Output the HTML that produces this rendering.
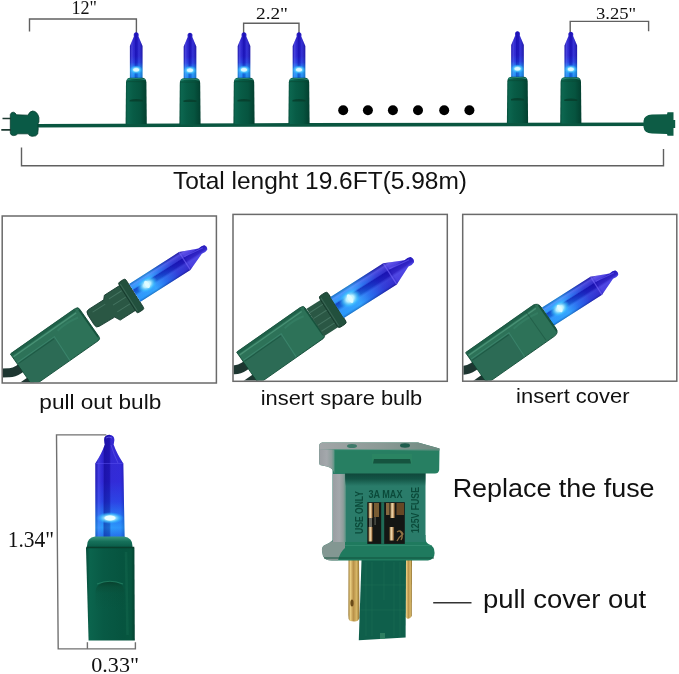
<!DOCTYPE html>
<html><head><meta charset="utf-8">
<style>
html,body{margin:0;padding:0;background:#fff;}
body{width:679px;height:674px;overflow:hidden;}
svg{display:block;}
text{font-family:"Liberation Sans", sans-serif;fill:#111;stroke:none;}
svg{will-change:transform;}
</style></head><body>
<svg width="679" height="674" viewBox="0 0 679 674">
<defs>
  <linearGradient id="bgrad" x1="0" y1="-47" x2="0" y2="0" gradientUnits="userSpaceOnUse">
    <stop offset="0" stop-color="#2c1ec4"/>
    <stop offset="0.5" stop-color="#2a24cc"/>
    <stop offset="0.64" stop-color="#2540dc"/>
    <stop offset="0.74" stop-color="#1f86f2"/>
    <stop offset="0.82" stop-color="#26b4fc"/>
    <stop offset="0.92" stop-color="#1c9cf4"/>
    <stop offset="1" stop-color="#1a84ea"/>
  </linearGradient>
  <linearGradient id="bside" x1="-6.3" y1="0" x2="6.3" y2="0" gradientUnits="userSpaceOnUse">
    <stop offset="0" stop-color="#000050" stop-opacity="0.2"/>
    <stop offset="0.15" stop-color="#8080ff" stop-opacity="0.35"/>
    <stop offset="0.3" stop-color="#6060ff" stop-opacity="0.1"/>
    <stop offset="0.42" stop-color="#0800a0" stop-opacity="0.4"/>
    <stop offset="0.58" stop-color="#0800a0" stop-opacity="0.3"/>
    <stop offset="0.72" stop-color="#6070ff" stop-opacity="0.2"/>
    <stop offset="1" stop-color="#000050" stop-opacity="0.3"/>
  </linearGradient>
  <linearGradient id="gbase" x1="-10.6" y1="0" x2="10.6" y2="0" gradientUnits="userSpaceOnUse">
    <stop offset="0" stop-color="#074e3b"/>
    <stop offset="0.1" stop-color="#0c664f"/>
    <stop offset="0.35" stop-color="#085c46"/>
    <stop offset="0.7" stop-color="#06543f"/>
    <stop offset="1" stop-color="#033f2f"/>
  </linearGradient>
  <g id="tbulb">
    <path d="M-2.3,-43 Q-2.6,-44.5 -2.3,-45.8 Q-1.6,-47.3 0,-47.3 Q1.6,-47.3 2.3,-45.8 Q2.6,-44.5 2.3,-43 L6.3,-33.5 L6.3,0 L-6.3,0 L-6.3,-33.5 Z" fill="url(#bgrad)"/>
    <path d="M-2.3,-43 Q-2.6,-44.5 -2.3,-45.8 Q-1.6,-47.3 0,-47.3 Q1.6,-47.3 2.3,-45.8 Q2.6,-44.5 2.3,-43 L6.3,-33.5 L6.3,0 L-6.3,0 L-6.3,-33.5 Z" fill="url(#bside)"/>
    <ellipse cx="0" cy="-9.8" rx="6.5" ry="4.5" fill="url(#glow)"/>
    <ellipse cx="0" cy="-9.8" rx="3" ry="1.5" fill="#dcfaff" opacity="0.9"/>
    <path d="M-10.2,3 Q-10,-1.6 -6,-1.8 L6,-1.8 Q10,-1.6 10.2,3 L10.6,44.5 L-10.6,44.5 Z" fill="url(#gbase)"/>
    <path d="M-9,0.2 Q0,-2.2 9,0.2" stroke="#2e8e78" stroke-width="1.2" fill="none" opacity="0.8"/>
    <rect x="-9.5" y="1.6" width="19" height="1" fill="#0a4632" opacity="0.5"/>
    <path d="M-6.5,20.5 Q0,18.5 6.5,20.5 L6.5,22 L-6.5,22 Z" fill="#073c2a" opacity="0.8"/>
  </g>

  <linearGradient id="glassA" x1="0" y1="0" x2="84" y2="0" gradientUnits="userSpaceOnUse">
    <stop offset="0" stop-color="#22a2fa"/>
    <stop offset="0.24" stop-color="#2eb2fe"/>
    <stop offset="0.38" stop-color="#2070ea"/>
    <stop offset="0.55" stop-color="#2a36d0"/>
    <stop offset="0.69" stop-color="#3024c4"/>
    <stop offset="0.72" stop-color="#4a3ada"/>
    <stop offset="1" stop-color="#4a3ade"/>
  </linearGradient>
  <linearGradient id="glassB" x1="0" y1="-11" x2="0" y2="11" gradientUnits="userSpaceOnUse">
    <stop offset="0" stop-color="#000050" stop-opacity="0.3"/>
    <stop offset="0.12" stop-color="#8a80ff" stop-opacity="0.4"/>
    <stop offset="0.28" stop-color="#7070ff" stop-opacity="0.15"/>
    <stop offset="0.36" stop-color="#0800a0" stop-opacity="0.55"/>
    <stop offset="0.55" stop-color="#0800a0" stop-opacity="0.35"/>
    <stop offset="0.66" stop-color="#6070ff" stop-opacity="0.25"/>
    <stop offset="0.88" stop-color="#5060ff" stop-opacity="0.15"/>
    <stop offset="1" stop-color="#000050" stop-opacity="0.35"/>
  </linearGradient>
  <g id="gbulb">
    <path id="gbshape" d="M0,-11 L58,-11 L76,-3.2 Q80,-4.2 82.5,-2.8 Q84.5,0 82.5,2.8 Q80,4.2 76,3.2 L58,11 L0,11 Z" fill="url(#glassA)"/>
    <path d="M0,-11 L58,-11 L76,-3.2 Q80,-4.2 82.5,-2.8 Q84.5,0 82.5,2.8 Q80,4.2 76,3.2 L58,11 L0,11 Z" fill="url(#glassB)"/>
    <path d="M58,-11 L58,11" stroke="#7a6cff" stroke-width="1.2" opacity="0.6"/>
    <path d="M60,-4 L80,-1.5" stroke="#7a6cff" stroke-width="1" opacity="0.5"/>
    <ellipse cx="14.5" cy="-0.5" rx="11" ry="8" fill="url(#glow)"/>
    <ellipse cx="14.5" cy="-0.5" rx="2" ry="4.2" fill="#e0fcff" opacity="0.9"/>
  </g>
  <clipPath id="c1"><rect x="2.9" y="216.7" width="212.8" height="165.6"/></clipPath>
  <clipPath id="c2"><rect x="233.7" y="215.1" width="212.9" height="165.5"/></clipPath>
  <clipPath id="c3"><rect x="463.4" y="215.1" width="212.7" height="165.4"/></clipPath>
</defs>

<!-- top dimension brackets -->
<g stroke="#606060" stroke-width="1.4" fill="none">
  <path d="M29.5,31.5 V19 H136.4 V33"/>
  <path d="M243.6,33 V23.2 H299 V33"/>
  <path d="M570.2,32.5 V21.4 H648.6 V31.2"/>
  <path d="M21.5,147.5 V165.8 H663.5 V149"/>
</g>
<text x="71.5" y="14" style="font-family:'Liberation Serif'" font-size="18" textLength="25.5" lengthAdjust="spacingAndGlyphs">12"</text>
<text x="256" y="18.8" style="font-family:'Liberation Serif'" font-size="17" textLength="32" lengthAdjust="spacingAndGlyphs">2.2"</text>
<text x="596" y="18.6" style="font-family:'Liberation Serif'" font-size="17.5" textLength="40.2" lengthAdjust="spacingAndGlyphs">3.25"</text>
<text x="173" y="188.9" font-size="24.2" textLength="294" lengthAdjust="spacingAndGlyphs">Total lenght 19.6FT(5.98m)</text>

<!-- wire -->
<path d="M36,125.7 L300,124.9 L660,124.2" stroke="#0a5640" stroke-width="3.6" fill="none"/>
<!-- plug -->
<path d="M10.3,114.5 Q11.3,112 13.3,112.2 Q15.2,112.4 16.5,114.8 L28,115.2 Q29.5,111.3 32.7,111 Q37.3,111.3 38.9,117.5 L38.9,122 L37.9,124 L38.2,129 L37.7,134 Q36.3,136.6 31.8,136.3 Q29,135.9 28.2,133.8 L17.8,133.8 Q16.2,135.7 13.3,135.6 Q10.8,135.3 10.3,133.2 Z" fill="#0a5a46" stroke="#063e2f" stroke-width="0.8"/>
<path d="M2.5,118.5 L11,118.5 M1.3,129.9 L11,129.9" stroke="#1d3a32" stroke-width="1.7"/>
<!-- connector -->
<path d="M643.5,121 Q644,115 652,114.5 L667,114.2 L667.5,112.2 L673.5,112.2 L673.5,120 L675.2,120 L675.2,128 L673.5,128 L673.5,135.8 L667.5,135.8 L667,134 L652,133.5 Q644,133 643.5,127 Z" fill="#0d5c45"/>

<!-- bulbs -->
<use href="#tbulb" x="136.2" y="79.5"/>
<use href="#tbulb" x="190" y="80"/>
<use href="#tbulb" x="244" y="79.5"/>
<use href="#tbulb" x="299" y="79.5"/>
<use href="#tbulb" x="517.5" y="78.5"/>
<use href="#tbulb" x="570.8" y="79"/>

<!-- dots -->
<g fill="#000">
  <circle cx="343.2" cy="110.2" r="5"/>
  <circle cx="367.9" cy="110.2" r="5"/>
  <circle cx="392.9" cy="110.2" r="5"/>
  <circle cx="418" cy="110.2" r="5"/>
  <circle cx="444.2" cy="110.2" r="5"/>
  <circle cx="469.4" cy="110.2" r="5"/>
</g>


<!-- box 1 content -->
<g clip-path="url(#c1)">
  <g transform="translate(89.6,324.2) rotate(-35)">
    <path d="M-74,-3.5 L-84,-3.5 Q-90,-3.5 -94,-6.5 L-127,-28.5" stroke="#1d3631" stroke-width="9" fill="none"/>
    <path d="M-122,12 L-74,12" stroke="#1d3631" stroke-width="8" fill="none"/>
    <path d="M-82,-21 L-2.5,-21 Q0.5,-21 0.5,-18 L0.5,15.5 Q0.5,18.5 -2.5,18.5 L-82,18.5 Z" fill="#2d7258" stroke="#0e4632" stroke-width="0.8"/>
    <path d="M-81,-20 L-3.5,-20" stroke="#1a5a43" stroke-width="3" opacity="0.7"/>
    <path d="M-81,-17 L-4.5,-17" stroke="#5aa688" stroke-width="1.3" opacity="0.6"/>
    <path d="M-81.5,-10 L-36,-10 L-37,18.0 L-81.5,18.0 Z" fill="#2c6b55"/>
    <path d="M-81,-10 L-36,-10 L-37,18.5" stroke="#45937a" stroke-width="1.1" fill="none" opacity="0.55"/>
    <path d="M-81,-8.5 L-37.5,-8.5" stroke="#0f4a35" stroke-width="1" opacity="0.5"/>
    <path d="M-30,-13 Q-17.75,-15 -5.5,-12" stroke="#3f8f72" stroke-width="2" fill="none" opacity="0.35"/>
    <path d="M-0.5,-18 L-0.5,15.5" stroke="#0e4632" stroke-width="1.4" opacity="0.7"/>

  </g>
  <g transform="translate(89.6,324.2) rotate(-32.5)">
    <path d="M7,-13 Q3.5,-13 3.5,-8.5 L3.5,3 Q3.5,7 7,7 L25,7.5 L28,13 L46.5,13 L46.5,-16.5 L28,-16.5 L25,-13 Z" fill="#2a5744"/>
    <path d="M7,-13 Q3.5,-13 3.5,-8.5 L3.5,3 Q3.5,7 7,7 L25,7.5 L28,13 L46.5,13 L46.5,-16.5 L28,-16.5 L25,-13 Z" fill="none" stroke="#163a2e" stroke-width="0.8"/>
    <path d="M9,-8.5 L24,-8.5 M30,-11 L45,-11 M30,-3.5 L45,-3.5 M30,4.5 L45,4.5" stroke="#4f7f6c" stroke-width="1" opacity="0.7"/>
    <rect x="46" y="-19.5" width="8.5" height="36" rx="2" fill="#22503d" stroke="#14372b" stroke-width="0.8"/>
    <path d="M47.5,-17.5 L47.5,14.5" stroke="#44705f" stroke-width="1" opacity="0.7"/>
    <g transform="translate(55,-2.2) scale(1.02,0.96)"><use href="#gbulb"/></g>
  </g>
</g>
<!-- box 2 content -->
<g clip-path="url(#c2)">
  <g transform="translate(314.2,321.7) rotate(-35)">
    <path d="M-73,-3.5 L-83,-3.5 Q-89,-3.5 -93,-6.5 L-126,-28.5" stroke="#1d3631" stroke-width="9" fill="none"/>
    <path d="M-121,12 L-73,12" stroke="#1d3631" stroke-width="8" fill="none"/>
    <path d="M-81,-19.5 L-2.5,-19.5 Q0.5,-19.5 0.5,-16.5 L0.5,16 Q0.5,19 -2.5,19 L-81,19 Z" fill="#2d7258" stroke="#0e4632" stroke-width="0.8"/>
    <path d="M-80,-18.5 L-3.5,-18.5" stroke="#1a5a43" stroke-width="3" opacity="0.7"/>
    <path d="M-80,-15.5 L-4.5,-15.5" stroke="#5aa688" stroke-width="1.3" opacity="0.6"/>
    <path d="M-80.5,-9 L-34,-9 L-35,18.5 L-80.5,18.5 Z" fill="#2c6b55"/>
    <path d="M-80,-9 L-34,-9 L-35,19" stroke="#45937a" stroke-width="1.1" fill="none" opacity="0.55"/>
    <path d="M-80,-7.5 L-35.5,-7.5" stroke="#0f4a35" stroke-width="1" opacity="0.5"/>
    <path d="M-28,-11.5 Q-16.75,-13.5 -5.5,-10.5" stroke="#3f8f72" stroke-width="2" fill="none" opacity="0.35"/>
    <path d="M-0.5,-16.5 L-0.5,16" stroke="#0e4632" stroke-width="1.4" opacity="0.7"/>

  </g>
  <g transform="translate(314.2,321.7) rotate(-32.5)">
    <rect x="0.5" y="-15" width="17" height="32.5" fill="#2a5744"/>
    <path d="M1,-10 L17,-10 M1,-3 L17,-3 M1,5 L17,5 M1,12 L17,12" stroke="#4f7f6c" stroke-width="1" opacity="0.7"/>
    <rect x="17" y="-18.7" width="10" height="37.4" rx="2.5" fill="#22503d" stroke="#14372b" stroke-width="0.8"/>
    <path d="M18.5,-16.7 L18.5,16.7" stroke="#44705f" stroke-width="1" opacity="0.7"/>
    <g transform="translate(27,0.4) scale(1.08,1.14)"><use href="#gbulb"/></g>
  </g>
</g>
<!-- box 3 content -->
<g clip-path="url(#c3)">
  <g transform="translate(546.4,319.9) rotate(-32.5)">
    <g transform="translate(3,-2) scale(0.99,0.98)"><use href="#gbulb"/></g>
  </g>
  <g transform="translate(546.4,319.9) rotate(-35)">
    <path d="M-77,-3.5 L-87,-3.5 Q-93,-3.5 -97,-6.5 L-130,-28.5" stroke="#1d3631" stroke-width="9" fill="none"/>
    <path d="M-125,12 L-77,12" stroke="#1d3631" stroke-width="8" fill="none"/>
    <path d="M-85,-19.5 L-3,-19.5 Q3,-19.5 3,-13.5 L3,12 Q3,18 -3,18 L-85,18 Z" fill="#2d7258" stroke="#0e4632" stroke-width="0.8"/>
    <path d="M-84,-18.5 L-1,-18.5" stroke="#1a5a43" stroke-width="3" opacity="0.7"/>
    <path d="M-84,-15.5 L-2,-15.5" stroke="#5aa688" stroke-width="1.3" opacity="0.6"/>
    <path d="M-84.5,-11 L-38,-11 L-39,17.5 L-84.5,17.5 Z" fill="#2c6b55"/>
    <path d="M-84,-11 L-38,-11 L-39,18" stroke="#45937a" stroke-width="1.1" fill="none" opacity="0.55"/>
    <path d="M-84,-9.5 L-39.5,-9.5" stroke="#0f4a35" stroke-width="1" opacity="0.5"/>
    <path d="M-32,-11.5 Q-17.5,-13.5 -3,-10.5" stroke="#3f8f72" stroke-width="2" fill="none" opacity="0.35"/>
    <path d="M2,-16.5 L2,15" stroke="#0e4632" stroke-width="1.4" opacity="0.7"/>

    <path d="M-12,-18 L-12,16.5" stroke="#174f3a" stroke-width="1" opacity="0.5"/>
  </g>
</g>

<!-- boxes -->
<g stroke="#6a6a6a" stroke-width="1.5" fill="none">
  <rect x="2.2" y="216" width="214.2" height="167"/>
  <rect x="233" y="214.4" width="214.3" height="166.9"/>
  <rect x="462.7" y="214.4" width="214.1" height="166.8"/>
</g>
<text x="39.3" y="409.4" font-size="20" textLength="122" lengthAdjust="spacingAndGlyphs">pull out bulb</text>
<text x="260.7" y="405.3" font-size="20" textLength="161.6" lengthAdjust="spacingAndGlyphs">insert spare bulb</text>
<text x="516.1" y="402.7" font-size="20" textLength="113.4" lengthAdjust="spacingAndGlyphs">insert cover</text>

<!-- bottom-left big bulb dims -->
<g stroke="#707070" stroke-width="1.4" fill="none">
  <path d="M106.3,434.9 H56.5 L58.2,648.9 H135.4 V642.2"/>
  <path d="M87.4,642.2 V648.9"/>
</g>

<!-- big bulb -->
<linearGradient id="bigv" x1="0" y1="435" x2="0" y2="538" gradientUnits="userSpaceOnUse">
  <stop offset="0" stop-color="#2d1ec6"/>
  <stop offset="0.45" stop-color="#2a22d0"/>
  <stop offset="0.65" stop-color="#2340e0"/>
  <stop offset="0.8" stop-color="#1e80f2"/>
  <stop offset="0.9" stop-color="#24a4fa"/>
  <stop offset="1" stop-color="#1a6ee6"/>
</linearGradient>
<linearGradient id="bigh" x1="95" y1="0" x2="125" y2="0" gradientUnits="userSpaceOnUse">
  <stop offset="0" stop-color="#000060" stop-opacity="0.25"/>
  <stop offset="0.12" stop-color="#7070ff" stop-opacity="0.35"/>
  <stop offset="0.25" stop-color="#6060ff" stop-opacity="0.1"/>
  <stop offset="0.3" stop-color="#0a0080" stop-opacity="0.45"/>
  <stop offset="0.48" stop-color="#0a0080" stop-opacity="0.35"/>
  <stop offset="0.55" stop-color="#6060ff" stop-opacity="0.15"/>
  <stop offset="0.85" stop-color="#5050ff" stop-opacity="0.2"/>
  <stop offset="1" stop-color="#000060" stop-opacity="0.3"/>
</linearGradient>
<linearGradient id="bigg" x1="86" y1="0" x2="135" y2="0" gradientUnits="userSpaceOnUse">
  <stop offset="0" stop-color="#064c39"/>
  <stop offset="0.08" stop-color="#0b644d"/>
  <stop offset="0.35" stop-color="#085a45"/>
  <stop offset="0.75" stop-color="#06543f"/>
  <stop offset="0.92" stop-color="#07563f"/>
  <stop offset="1" stop-color="#033f2f"/>
</linearGradient>
<linearGradient id="bigcol" x1="0" y1="536" x2="0" y2="547" gradientUnits="userSpaceOnUse">
  <stop offset="0" stop-color="#3e9c84"/>
  <stop offset="0.5" stop-color="#16705a"/>
  <stop offset="1" stop-color="#0a5c48"/>
</linearGradient>
<linearGradient id="ridgefade" x1="0" y1="582" x2="0" y2="610" gradientUnits="userSpaceOnUse">
  <stop offset="0" stop-color="#073f2c" stop-opacity="0.9"/>
  <stop offset="0.18" stop-color="#0a4a34" stop-opacity="0.55"/>
  <stop offset="0.4" stop-color="#0a4a34" stop-opacity="0.15"/>
  <stop offset="1" stop-color="#0a4a34" stop-opacity="0"/>
</linearGradient>
<radialGradient id="glow" cx="0.5" cy="0.5" r="0.5">
  <stop offset="0" stop-color="#f0ffff"/>
  <stop offset="0.35" stop-color="#b8f0ff"/>
  <stop offset="0.7" stop-color="#40c8ff" stop-opacity="0.6"/>
  <stop offset="1" stop-color="#30a0ff" stop-opacity="0"/>
</radialGradient>
<path d="M104.2,440.5 Q103.6,435.3 109.2,434.8 Q114.8,435.3 114.3,440.5 Q114,443 113.6,444.5 Q116.5,453 123.3,463.5 L124.6,537.5 L95.4,537.5 L95.3,463.5 Q102,453 104.8,444.5 Q104.4,443 104.2,440.5 Z" fill="url(#bigv)"/>
<path d="M104.2,440.5 Q103.6,435.3 109.2,434.8 Q114.8,435.3 114.3,440.5 Q114,443 113.6,444.5 Q116.5,453 123.3,463.5 L124.6,537.5 L95.4,537.5 L95.3,463.5 Q102,453 104.8,444.5 Q104.4,443 104.2,440.5 Z" fill="url(#bigh)"/>
<path d="M95.3,463.5 L123.3,463.5" stroke="#5a50f0" stroke-width="1" opacity="0.5"/>
<path d="M106,438 Q109,436 112,438" stroke="#7a70ff" stroke-width="1" fill="none" opacity="0.6"/>
<path d="M111,445 Q114,455 118,463" stroke="#6a60f0" stroke-width="1" fill="none" opacity="0.5"/>
<ellipse cx="110" cy="518" rx="14" ry="6" fill="url(#glow)"/>
<ellipse cx="110" cy="518" rx="5.5" ry="2.6" fill="#eaffff"/>
<path d="M86,548 L134.4,548 L134.8,640.4 L88.6,640.4 Z" fill="url(#bigg)"/>
<path d="M87,546 Q87,537.5 95,536.5 L124,536.5 Q132.5,537.5 132.5,546 L132.5,548 L87,548 Z" fill="url(#bigcol)"/>
<path d="M86.2,547.5 L134.3,547.5" stroke="#0a3f2d" stroke-width="1.4"/>
<path d="M126,552 L127.5,635" stroke="#2a8a6a" stroke-width="2.5" opacity="0.18"/>
<path d="M95.5,592 Q96,582 110,581.5 Q124,582 124.5,592 L124.5,612 L95.5,612 Z" fill="url(#ridgefade)"/>
<path d="M97,584 Q110,578.5 123,584" stroke="#2f8f70" stroke-width="1.2" fill="none" opacity="0.6"/>

<text x="7.7" y="547" style="font-family:'Liberation Serif'" font-size="23.5" textLength="46.4" lengthAdjust="spacingAndGlyphs">1.34"</text>
<text x="91.3" y="671.9" style="font-family:'Liberation Serif'" font-size="21.5" textLength="47.7" lengthAdjust="spacingAndGlyphs">0.33"</text>


<!-- fuse plug -->
<linearGradient id="prong" x1="0" y1="0" x2="1" y2="0">
  <stop offset="0" stop-color="#9a7a38"/>
  <stop offset="0.2" stop-color="#e8cc80"/>
  <stop offset="0.45" stop-color="#b89048"/>
  <stop offset="0.75" stop-color="#d8b868"/>
  <stop offset="1" stop-color="#8a6a28"/>
</linearGradient>
<linearGradient id="fuseside" x1="0" y1="0" x2="1" y2="0">
  <stop offset="0" stop-color="#9a9ea2"/>
  <stop offset="0.5" stop-color="#a4a8ac"/>
  <stop offset="0.8" stop-color="#8e9e9c"/>
  <stop offset="1" stop-color="#5a9484"/>
</linearGradient>
<linearGradient id="cap" x1="0" y1="0" x2="1" y2="0">
  <stop offset="0" stop-color="#8a6838"/>
  <stop offset="0.4" stop-color="#f2dcb0"/>
  <stop offset="0.7" stop-color="#c8a070"/>
  <stop offset="1" stop-color="#5a3a18"/>
</linearGradient>
<!-- prongs -->
<path d="M348.5,558 L359,558 L359.5,618 Q358,622 354,621.5 L350,621 Q348,619 348.3,615 Z" fill="url(#prong)"/>
<ellipse cx="352" cy="603" rx="1.6" ry="3.5" fill="#6a4a18"/>
<path d="M405.2,558 L412,558 L411.8,616 Q410,619.5 407,618.5 L405.6,617 Z" fill="url(#prong)"/>
<!-- cover -->
<path d="M361.6,558 L406,558 L405.6,637.5 L358.8,640.3 Z" fill="#0f5f4b"/>
<path d="M366,562 L366,636 M372,562 L372,636 M384,562 L384,600 M394,562 L394,636 M400,562 L400,636" stroke="#2a7e5e" stroke-width="0.8" opacity="0.3"/>
<path d="M361,585 L405,585 M360.5,610 L405,610" stroke="#2a7e5e" stroke-width="0.8" opacity="0.3"/>
<rect x="380" y="633" width="5" height="6" fill="#3a8a6a" opacity="0.7"/>
<!-- foot -->
<path d="M333,535 L333,540 Q330,543 324,545.5 Q321.5,547.5 322,551 L323,556 Q325,560.5 332,560.5 L428,560.5 Q434.5,560 434.6,553 L434,549 Q433,546 428.5,544 Q425.5,542.5 425.5,538 L425.5,535 Z" fill="#1f7a5e"/>
<path d="M333,540 Q330,543 324,545.5 Q321.5,547.5 322,551 L323,556 Q325,560.5 332,560.5 L338,560.5 Q340,552 345,548 L345,540 Z" fill="#8e9a98" opacity="0.9"/>
<path d="M345,545.5 L432,545.5" stroke="#3a9478" stroke-width="1.2" opacity="0.6"/>
<path d="M324,558 L434,558" stroke="#0f4f3a" stroke-width="2" opacity="0.45"/>
<!-- waist -->
<rect x="332.5" y="470" width="93" height="72" fill="#2a7c6a"/>
<rect x="332.8" y="474" width="13" height="68" fill="url(#fuseside)"/>
<linearGradient id="waistshadow" x1="0" y1="470" x2="0" y2="486" gradientUnits="userSpaceOnUse">
  <stop offset="0" stop-color="#0c3a30" stop-opacity="0.95"/>
  <stop offset="0.55" stop-color="#0d4a3c" stop-opacity="0.8"/>
  <stop offset="1" stop-color="#0d4a3c" stop-opacity="0"/>
</linearGradient>
<rect x="345" y="470" width="80.5" height="16" fill="url(#waistshadow)"/>
<!-- head -->
<path d="M319.2,445 Q319.5,443 322,442.5 L418,442.5 L439.5,448.5 L439.2,470 Q438.5,473.5 435,473.5 L334.5,473.5 Q333,468 327,466.5 L320,465 Q319.2,464 319.2,461 Z" fill="#277f62"/>
<linearGradient id="topface" x1="319" y1="0" x2="439" y2="0" gradientUnits="userSpaceOnUse">
  <stop offset="0" stop-color="#a2a6a8"/>
  <stop offset="0.5" stop-color="#8c9a96"/>
  <stop offset="1" stop-color="#6e8a80"/>
</linearGradient>
<path d="M319.2,445 Q319.5,443 322,442.5 L418,442.5 L439.5,448.5 L439.5,450.5 L334,449.5 L319.2,449 Z" fill="url(#topface)"/>
<ellipse cx="352" cy="446" rx="5" ry="2" fill="#3e7a6a"/>
<ellipse cx="405" cy="445.5" rx="5" ry="2.2" fill="#1f5e4e"/>
<path d="M319.2,446 L319.2,461 Q319.2,464 320,465 L327,466.5 Q333,468 334.5,473.5 L334.5,449.5 L319.2,449 Z" fill="url(#fuseside)"/>
<path d="M372,454 L412,454 L412,463.5 L372,463.5 Z" fill="#2a8462"/>
<path d="M374,459 L410,459 L411,463.5 L373,463.5 Z" fill="#134f3c" opacity="0.9"/>
<path d="M334.5,449.8 L438.6,449.8" stroke="#3a9478" stroke-width="1" opacity="0.5"/>
<!-- fuse window -->
<rect x="367.3" y="502.2" width="37.5" height="41.7" fill="#141614"/>
<rect x="381.2" y="502.2" width="3" height="41.7" fill="#1f6a56"/>
<rect x="368.5" y="503" width="4.2" height="15" fill="url(#cap)"/>
<rect x="369" y="518" width="3" height="9" fill="#7a7a70" opacity="0.8"/>
<rect x="368.5" y="527" width="4.2" height="14.5" fill="url(#cap)"/>
<rect x="374" y="503" width="5" height="14" fill="#8a6838" opacity="0.85"/>
<rect x="374.5" y="517" width="1.2" height="8" fill="#a0a090" opacity="0.5"/>
<rect x="386" y="503" width="3.5" height="12" fill="#9a7848" opacity="0.85"/>
<rect x="390.3" y="503" width="4.6" height="15" fill="url(#cap)"/>
<rect x="389.5" y="527" width="4.6" height="13.5" fill="url(#cap)"/>
<rect x="396.5" y="503" width="7.5" height="12" fill="#7a5428" opacity="0.8"/>
<path d="M397,532 Q401,529 403,534 Q399,537 397,541 M400,531 Q404,535 401,540" stroke="#b08a50" stroke-width="1.3" fill="none" opacity="0.8"/>
<!-- embossed text -->
<text x="368.5" y="497.8" font-size="11.5" textLength="34" lengthAdjust="spacingAndGlyphs" style="fill:#0b4a3a;stroke:none;font-weight:bold">3A MAX</text>
<text transform="translate(362.5,534) rotate(-90)" x="0" y="0" font-size="11.5" textLength="43" lengthAdjust="spacingAndGlyphs" style="fill:#0b4a3a;stroke:none;font-weight:bold">USE ONLY</text>
<text transform="translate(418.5,533) rotate(-90)" x="0" y="0" font-size="11.5" textLength="46" lengthAdjust="spacingAndGlyphs" style="fill:#0b4a3a;stroke:none;font-weight:bold">125V FUSE</text>

<text x="452.7" y="496.5" font-size="25" textLength="201.9" lengthAdjust="spacingAndGlyphs">Replace the fuse</text>
<path d="M433.2,602.7 H471.5" stroke="#333" stroke-width="1.5"/>
<text x="483" y="608" font-size="25" textLength="163.2" lengthAdjust="spacingAndGlyphs">pull cover out</text>

</svg>
</body></html>
